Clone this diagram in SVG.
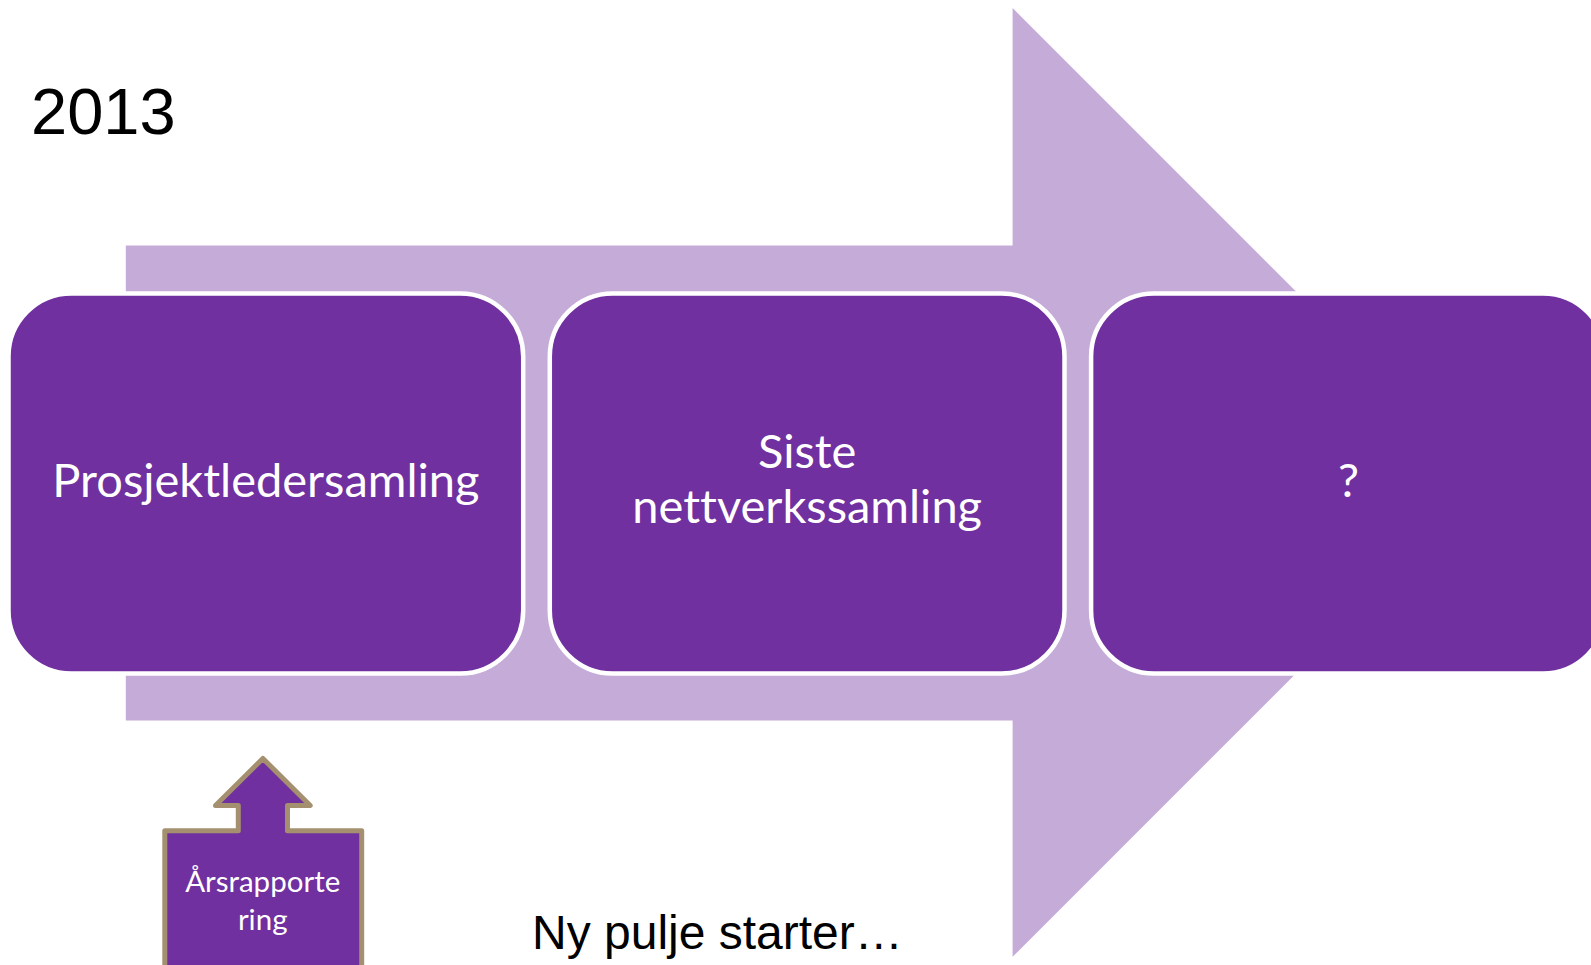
<svg xmlns="http://www.w3.org/2000/svg" width="1591" height="965" viewBox="0 0 1591 965">
  <style>
    .box { fill: #7030A0; stroke: #FFFFFF; stroke-width: 4.5; }
    .boxtxt { font-family: Lato, "Open Sans", sans-serif; font-size: 47px; fill: #FFFFFF; text-anchor: middle; font-variant-ligatures: none; }
    .smalltxt { font-family: Lato, "Open Sans", sans-serif; font-size: 29.5px; fill: #FFFFFF; text-anchor: middle; font-variant-ligatures: none; }
    .plain { font-family: "Liberation Sans", Arial, sans-serif; fill: #000000; }
  </style>
  <rect x="0" y="0" width="1591" height="965" fill="#FFFFFF"/>

  <g id="connectors">
    <polygon id="big-arrow" points="125.8,245.6 1012.6,245.6 1012.6,8.1 1487,482.5 1012.6,956.8 1012.6,720.4 125.8,720.4" fill="#C5ACD8"/>
  </g>

  <g id="node-prosjektledersamling">
    <rect class="box" x="8.5" y="293.5" width="514.7" height="380" rx="63" ry="63"/>
    <text class="boxtxt" x="265.9" y="497">Prosjektledersamling</text>
  </g>

  <g id="node-siste-nettverkssamling">
    <rect class="box" x="549.8" y="293.5" width="514.7" height="380" rx="63" ry="63"/>
    <text class="boxtxt" x="807.2" y="467.5">Siste</text>
    <text class="boxtxt" x="807.2" y="522.7">nettverkssamling</text>
  </g>

  <g id="node-question">
    <rect class="box" x="1091.1" y="293.5" width="514.7" height="380" rx="63" ry="63"/>
    <text class="boxtxt" x="1348.5" y="497">?</text>
  </g>

  <g id="node-arsrapportering">
    <path d="M262.9,758.5 L310.2,805.5 L287.5,805.5 L287.5,830.8 L361.7,830.8 L361.7,975 L164.8,975 L164.8,830.8 L238.3,830.8 L238.3,805.5 L215.5,805.5 Z" fill="#7030A0" stroke="#A4906F" stroke-width="5" stroke-linejoin="round"/>
    <text class="smalltxt" x="262.7" y="891.7">Årsrapporte</text>
    <text class="smalltxt" x="262.7" y="930">ring</text>
  </g>

  <g id="label-2013">
    <text class="plain" x="31" y="134" font-size="65">2013</text>
  </g>

  <g id="label-ny-pulje">
    <text class="plain" x="532" y="949" font-size="48">Ny pulje starter…</text>
  </g>
</svg>
